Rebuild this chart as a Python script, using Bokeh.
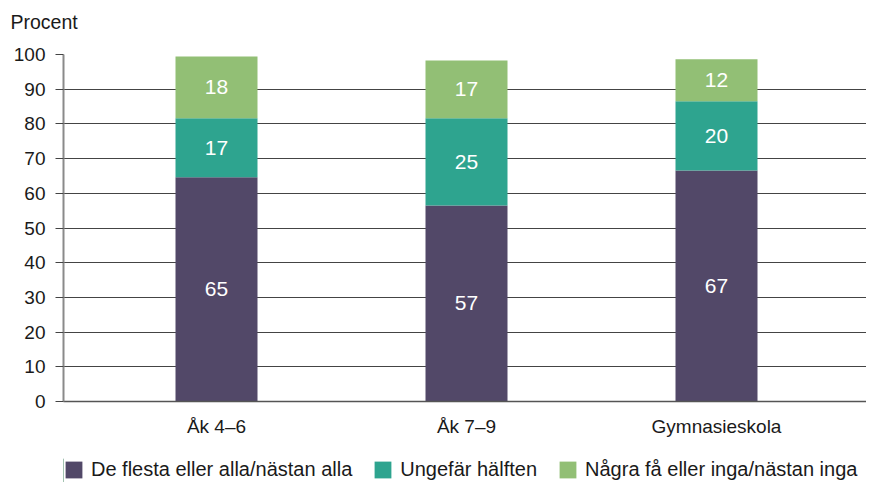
from bokeh.plotting import figure
from bokeh.layouts import column
from bokeh.models import ColumnDataSource, Range1d, FixedTicker, Legend
from bokeh.core.properties import value
from bokeh.embed import file_html
from bokeh.resources import INLINE

categories = ["Åk 4–6", "Åk 7–9", "Gymnasieskola"]
series_names = ["De flesta eller alla/nästan alla", "Ungefär hälften", "Några få eller inga/nästan inga"]
most = [64.6, 56.5, 66.6]
half = [17.0, 25.1, 19.9]
few = [17.8, 16.7, 12.1]
most_labels = ["65", "57", "67"]
half_labels = ["17", "25", "20"]
few_labels = ["18", "17", "12"]
y_ticks = [0, 10, 20, 30, 40, 50, 60, 70, 80, 90, 100]
colors = ["#524868", "#2ea48f", "#92bf75"]

FONT = "Liberation Sans"
TXT = "#1a1a1a"
xs = list(range(len(categories)))

p = figure(width=866, height=458, output_backend="svg", toolbar_location=None,
           x_range=Range1d(-0.612, 2.6), y_range=Range1d(0, 100),
           min_border_left=63, min_border_right=0, min_border_top=54, min_border_bottom=57)
p.outline_line_color = None
p.background_fill_color = "white"

src = ColumnDataSource(dict(x=xs, most=most, half=half, few=few))
rs = p.vbar_stack(["most", "half", "few"], x="x", width=0.328, source=src,
                  color=colors, line_color=None)

# labels at segment centers
lx, ly, lt = [], [], []
for i in xs:
    segs = [(most[i], most_labels[i]), (half[i], half_labels[i]), (few[i], few_labels[i])]
    base = 0
    for v, t in segs:
        lx.append(i)
        ly.append(base + v / 2)
        lt.append(t)
        base += v
p.text(x=lx, y=ly, text=lt, text_color="white", text_font=value(FONT),
       text_font_size="21px", text_align="center", text_baseline="middle")

# title "Procent" (second empty line lifts it to the top of the canvas)
p.title.text = "Procent\n "
p.title.align = "left"
p.title.offset = -53
p.title.text_font = FONT
p.title.text_font_size = "19.5px"
p.title.text_font_style = "normal"
p.title.text_color = TXT
p.title.standoff = 0

# y axis
ya = p.yaxis[0]
ya.ticker = FixedTicker(ticks=y_ticks)
ya.axis_line_color = "#8a8a8a"
ya.axis_line_width = 2
ya.major_tick_line_color = "#444444"
ya.major_tick_out = 8
ya.major_tick_in = 0
ya.minor_tick_line_color = None
ya.major_label_standoff = 10
ya.major_label_text_font = FONT
ya.major_label_text_font_size = "19px"
ya.major_label_text_color = TXT

# x axis
xa = p.xaxis[0]
xa.ticker = FixedTicker(ticks=xs)
xa.major_label_overrides = {i: c for i, c in zip(xs, categories)}
xa.axis_line_color = "#555555"
xa.axis_line_width = 1.5
xa.major_tick_line_color = None
xa.minor_tick_line_color = None
xa.major_tick_out = 0
xa.major_label_standoff = 14
xa.major_label_text_font = FONT
xa.major_label_text_font_size = "19px"
xa.major_label_text_color = TXT

p.xgrid.grid_line_color = None
p.ygrid.ticker = FixedTicker(ticks=y_ticks)
p.ygrid.grid_line_color = "#444444"
p.ygrid.grid_line_width = 1

# legend strip: its own figure; swatch renderers sit outside its visible range
lg = figure(width=866, height=24, output_backend="svg", toolbar_location=None,
            x_range=Range1d(0, 1), y_range=Range1d(0, 1),
            x_axis_type=None, y_axis_type=None,
            min_border_left=63, min_border_right=0, min_border_top=0, min_border_bottom=0)
lg.outline_line_color = None
swatches = [lg.vbar(x=[-10], top=[1], width=0.1, color=c, line_color=None) for c in colors]
legend = Legend(items=[(n, [r]) for n, r in zip(series_names, swatches)],
                location="top_left", orientation="horizontal",
                glyph_width=21, glyph_height=21, label_height=21,
                label_standoff=7, spacing=20, padding=0, margin=0,
                border_line_color=None, background_fill_alpha=0,
                label_text_font=FONT, label_text_font_size="20px",
                label_text_color=TXT)
lg.add_layout(legend, "center")

layout = column(p, lg, spacing=0)
open("out.html", "w").write(file_html(layout, INLINE))
